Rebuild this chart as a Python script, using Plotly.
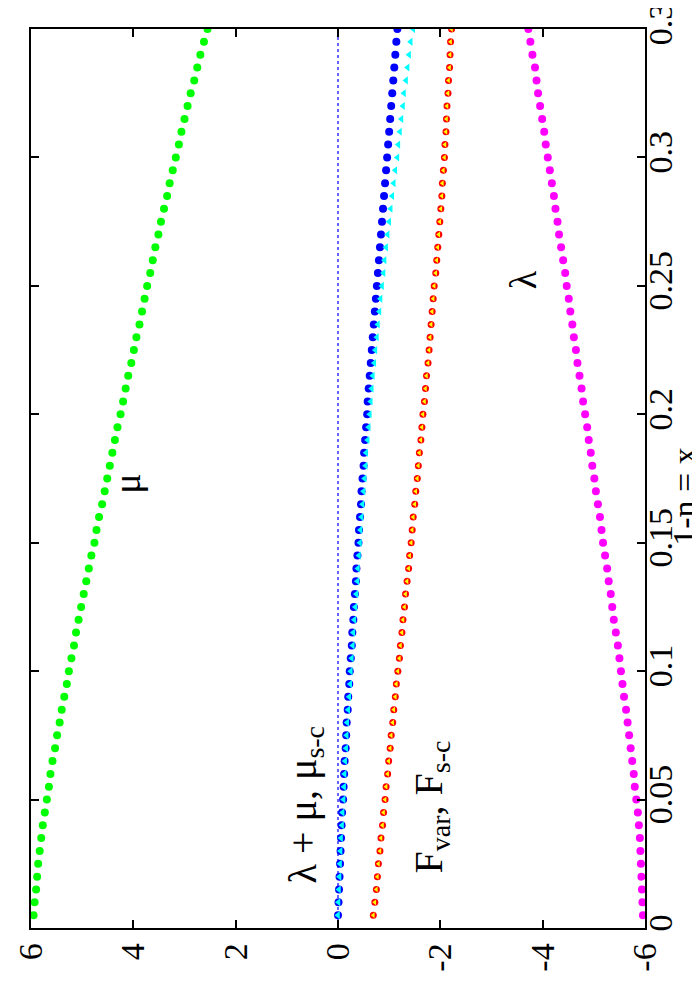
import plotly.graph_objects as go

# 1-n = x sampling grid (vertical axis in the rotated picture)
x_grid = [0.005, 0.010, 0.015, 0.020, 0.025, 0.030, 0.035, 0.040, 0.045, 0.050,
          0.055, 0.060, 0.065, 0.070, 0.075, 0.080, 0.085, 0.090, 0.095, 0.100,
          0.105, 0.110, 0.115, 0.120, 0.125, 0.130, 0.135, 0.140, 0.145, 0.150,
          0.155, 0.160, 0.165, 0.170, 0.175, 0.180, 0.185, 0.190, 0.195, 0.200,
          0.205, 0.210, 0.215, 0.220, 0.225, 0.230, 0.235, 0.240, 0.245, 0.250,
          0.255, 0.260, 0.265, 0.270, 0.275, 0.280, 0.285, 0.290, 0.295, 0.300,
          0.305, 0.310, 0.315, 0.320, 0.325, 0.330, 0.335, 0.340, 0.345, 0.350]

mu = [5.95, 5.93, 5.90, 5.88, 5.86, 5.83, 5.80, 5.77, 5.73, 5.69,
      5.65, 5.62, 5.58, 5.53, 5.49, 5.44, 5.40, 5.35, 5.30, 5.26,
      5.21, 5.16, 5.12, 5.07, 5.02, 4.97, 4.92, 4.87, 4.82, 4.76,
      4.72, 4.67, 4.61, 4.56, 4.51, 4.46, 4.41, 4.36, 4.31, 4.25,
      4.20, 4.15, 4.10, 4.04, 3.99, 3.94, 3.88, 3.83, 3.78, 3.73,
      3.67, 3.62, 3.57, 3.51, 3.46, 3.40, 3.34, 3.29, 3.23, 3.17,
      3.11, 3.06, 3.00, 2.94, 2.88, 2.81, 2.75, 2.69, 2.62, 2.55]

lam = [-5.96, -5.95, -5.94, -5.93, -5.92, -5.91, -5.90, -5.88, -5.86, -5.83,
       -5.80, -5.78, -5.75, -5.72, -5.69, -5.66, -5.63, -5.59, -5.56, -5.53,
       -5.50, -5.47, -5.43, -5.39, -5.36, -5.33, -5.29, -5.26, -5.22, -5.18,
       -5.15, -5.12, -5.08, -5.04, -5.01, -4.97, -4.94, -4.90, -4.87, -4.83,
       -4.79, -4.76, -4.72, -4.68, -4.65, -4.61, -4.58, -4.54, -4.51, -4.47,
       -4.44, -4.40, -4.36, -4.32, -4.29, -4.25, -4.22, -4.18, -4.14, -4.10,
       -4.06, -4.03, -3.99, -3.95, -3.91, -3.88, -3.85, -3.80, -3.76, -3.72]

lam_plus_mu = [0.00, -0.01, -0.02, -0.03, -0.04, -0.05, -0.06, -0.07, -0.08, -0.10,
               -0.11, -0.12, -0.13, -0.15, -0.16, -0.17, -0.19, -0.20, -0.22, -0.23,
               -0.25, -0.27, -0.28, -0.30, -0.31, -0.33, -0.35, -0.36, -0.38, -0.40,
               -0.41, -0.43, -0.45, -0.46, -0.48, -0.50, -0.51, -0.53, -0.55, -0.57,
               -0.58, -0.60, -0.62, -0.64, -0.66, -0.68, -0.70, -0.72, -0.74, -0.76,
               -0.78, -0.80, -0.82, -0.84, -0.86, -0.88, -0.90, -0.92, -0.94, -0.96,
               -0.98, -1.00, -1.02, -1.04, -1.06, -1.08, -1.10, -1.12, -1.14, -1.16]

mu_sc = [0.00, -0.01, -0.02, -0.03, -0.04, -0.05, -0.06, -0.08, -0.09, -0.11,
         -0.12, -0.13, -0.14, -0.16, -0.17, -0.18, -0.20, -0.22, -0.24, -0.25,
         -0.27, -0.29, -0.30, -0.32, -0.34, -0.36, -0.38, -0.39, -0.41, -0.43,
         -0.44, -0.46, -0.48, -0.50, -0.52, -0.54, -0.55, -0.58, -0.60, -0.62,
         -0.64, -0.66, -0.68, -0.71, -0.73, -0.76, -0.78, -0.81, -0.83, -0.86,
         -0.89, -0.91, -0.94, -0.97, -1.00, -1.03, -1.06, -1.09, -1.12, -1.16,
         -1.18, -1.21, -1.24, -1.27, -1.29, -1.33, -1.36, -1.39, -1.42, -1.47]

f_var = [-0.69, -0.72, -0.75, -0.77, -0.79, -0.82, -0.84, -0.87, -0.89, -0.92,
         -0.94, -0.97, -0.99, -1.02, -1.04, -1.07, -1.09, -1.12, -1.14, -1.17,
         -1.20, -1.22, -1.25, -1.27, -1.30, -1.32, -1.35, -1.38, -1.40, -1.43,
         -1.45, -1.47, -1.50, -1.52, -1.55, -1.57, -1.59, -1.62, -1.64, -1.66,
         -1.69, -1.71, -1.73, -1.76, -1.78, -1.80, -1.82, -1.84, -1.86, -1.88,
         -1.91, -1.93, -1.95, -1.97, -1.99, -2.01, -2.03, -2.04, -2.06, -2.08,
         -2.09, -2.11, -2.12, -2.13, -2.15, -2.16, -2.18, -2.19, -2.20, -2.22]

f_sc = [-0.69, -0.72, -0.75, -0.77, -0.79, -0.82, -0.84, -0.87, -0.89, -0.92,
        -0.94, -0.97, -0.99, -1.02, -1.04, -1.07, -1.09, -1.12, -1.14, -1.17,
        -1.20, -1.22, -1.25, -1.27, -1.30, -1.32, -1.35, -1.38, -1.40, -1.43,
        -1.45, -1.47, -1.50, -1.52, -1.55, -1.57, -1.59, -1.62, -1.64, -1.66,
        -1.69, -1.71, -1.73, -1.76, -1.78, -1.80, -1.82, -1.84, -1.86, -1.88,
        -1.91, -1.93, -1.95, -1.97, -1.99, -2.01, -2.03, -2.04, -2.06, -2.08,
        -2.09, -2.11, -2.12, -2.13, -2.15, -2.16, -2.18, -2.19, -2.20, -2.22]

value_ticks = [6, 4, 2, 0, -2, -4, -6]
value_ticktext = ["6", "4", "2", "0", "-2", "-4", "-6"]
x_ticks = [0, 0.05, 0.1, 0.15, 0.2, 0.25, 0.3, 0.35]
x_ticktext = ["0", "0.05", "0.1", "0.15", "0.2", "0.25", "0.3", "0.3"]
zero_line_value = [0, 0]
zero_line_x = [0, 0.35]

FONT = "Liberation Serif"

fig = go.Figure()

fig.add_trace(go.Scatter(x=zero_line_value, y=zero_line_x, mode="lines",
                         line=dict(color="#0000ff", width=1.2, dash="dot"),
                         showlegend=False, hoverinfo="skip"))
fig.add_trace(go.Scatter(x=mu, y=x_grid, mode="markers", name="μ",
                         marker=dict(color="#00ff00", size=8, symbol="circle")))
fig.add_trace(go.Scatter(x=lam, y=x_grid, mode="markers", name="λ",
                         marker=dict(color="#ff00ff", size=8, symbol="circle")))
fig.add_trace(go.Scatter(x=lam_plus_mu, y=x_grid, mode="markers", name="λ+μ",
                         marker=dict(color="#0000ff", size=8, symbol="circle")))
fig.add_trace(go.Scatter(x=mu_sc, y=x_grid, mode="markers", name="μ_s-c",
                         marker=dict(color="#00ffff", size=7, symbol="triangle-left")))
fig.add_trace(go.Scatter(x=f_var, y=x_grid, mode="markers", name="F_var",
                         marker=dict(color="#ff0000", size=7, symbol="circle")))
fig.add_trace(go.Scatter(x=f_sc, y=x_grid, mode="markers", name="F_s-c",
                         marker=dict(color="#ffff00", size=5, symbol="triangle-left")))

axis_common = dict(showline=True, linecolor="black", linewidth=1.5, mirror="ticks",
                   ticks="inside", ticklen=8, tickwidth=1.5, tickcolor="black",
                   showgrid=False, zeroline=False, ticklabeloverflow="allow",
                   tickfont=dict(family=FONT, size=34, color="black"))

fig.update_layout(
    width=700, height=1000,
    margin=dict(l=23, r=63, t=21, b=80),
    paper_bgcolor="white", plot_bgcolor="white",
    showlegend=False,
    template="none",
    font=dict(family=FONT, color="black"),
    xaxis=dict(range=[6, -6], tickvals=value_ticks, ticktext=value_ticktext,
               tickangle=-90, side="bottom", **axis_common),
    yaxis=dict(range=[0, 0.35001], tickvals=x_ticks, ticktext=x_ticktext,
               tickangle=-90, side="right", ticklabelstandoff=-16, **axis_common),
)

annots = [
    dict(text="μ", x=4.14, y=0.173, xref="x", yref="y", size=38),
    dict(text="λ", x=-3.63, y=0.2525, xref="x", yref="y", size=38),
    dict(text="λ + μ, μ<sub>s-c</sub>", x=0.65, y=0.048, xref="x", yref="y", size=40),
    dict(text="F<sub>var</sub>, F<sub>s-c</sub>", x=-1.82, y=0.047, xref="x", yref="y", size=40),
    dict(text="1-n = x", x=1.063, y=0.4805, xref="paper", yref="paper", size=34),
]
for a in annots:
    fig.add_annotation(text=a["text"], x=a["x"], y=a["y"], xref=a["xref"], yref=a["yref"],
                       textangle=-90, showarrow=False,
                       font=dict(family=FONT, size=a["size"], color="black"),
                       xanchor="center", yanchor="middle")

fig.write_html("out.html")
